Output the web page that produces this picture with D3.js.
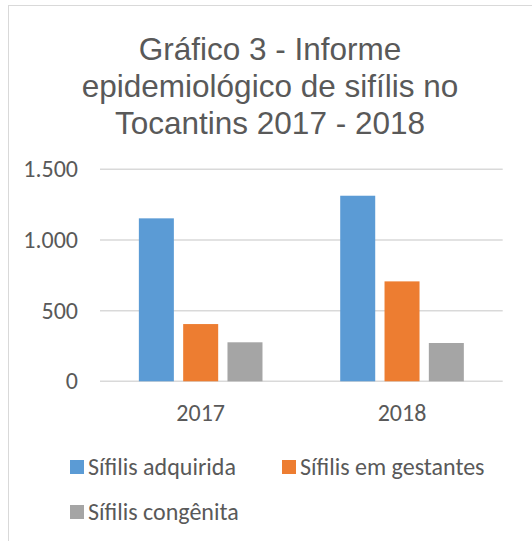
<!DOCTYPE html>
<html>
<head>
<meta charset="utf-8">
<script src="https://cdn.jsdelivr.net/npm/d3@7"></script>
<style>
  html, body { margin: 0; padding: 0; background: #fff; }
  svg { display: block; }
</style>
</head>
<body>
<svg id="chart" width="532" height="541"></svg>
<script>
// Notified cases of syphilis in Tocantins, by year and type
const years = ["2017", "2018"];
const seriesNames = ["Sífilis adquirida", "Sífilis em gestantes", "Sífilis congênita"];
const adquirida = [1153, 1313];
const gestantes = [405, 707];
const congenita = [276, 271];
const yTicks = [0, 500, 1000, 1500];
const titleLines = ["Gráfico 3 - Informe", "epidemiológico de sifílis no", "Tocantins 2017 - 2018"];
const colors = ["#5B9BD5", "#ED7D31", "#A5A5A5"];

const seriesValues = [adquirida, gestantes, congenita];
const rows = years.map((y, i) => ({
  year: y,
  values: seriesNames.map((s, j) => ({ series: s, value: seriesValues[j][i] }))
}));

const svg = d3.select("#chart");
const textColor = "#595959";
const bodyFont = "Carlito, Calibri, 'Open Sans', sans-serif";
const bodySize = 24;

// chart area frame
svg.append("rect")
  .attr("x", 8.5).attr("y", 5.5)
  .attr("width", 600).attr("height", 600)
  .attr("fill", "#fff")
  .attr("stroke", "#D9D9D9").attr("stroke-width", 1);

// title
svg.append("g").selectAll("text")
  .data(titleLines)
  .join("text")
  .attr("x", 270)
  .attr("y", (d, i) => 59.5 + i * 37)
  .attr("text-anchor", "middle")
  .attr("font-family", "'Liberation Sans', Arial, sans-serif")
  .attr("font-size", 31.5)
  .attr("fill", textColor)
  .text(d => d);

const plot = { left: 100, right: 502.7, top: 169.3, bottom: 381.3 };

const y = d3.scaleLinear().domain([0, 1500]).range([plot.bottom, plot.top]);
const x0 = d3.scaleBand().domain(years).range([plot.left, plot.right]).padding(0);
const x1 = d3.scaleBand().domain(seriesNames).range([0, x0.bandwidth()])
  .paddingInner(0.21).paddingOuter(0.877);

// gridlines
svg.append("g")
  .selectAll("line")
  .data(yTicks)
  .join("line")
  .attr("x1", plot.left).attr("x2", plot.right)
  .attr("y1", d => y(d)).attr("y2", d => y(d))
  .attr("stroke", "#D9D9D9").attr("stroke-width", 1.5);

// y axis labels
const yAxis = d3.axisLeft(y).tickValues(yTicks).tickSize(0).tickPadding(0)
  .tickFormat(d => d3.format(",")(d).replace(/,/g, "."));
svg.append("g")
  .attr("transform", `translate(78,0)`)
  .call(yAxis)
  .call(g => g.select(".domain").remove())
  .call(g => g.selectAll("text")
    .attr("font-family", bodyFont)
    .attr("font-size", bodySize)
    .attr("fill", textColor));

// bars
svg.append("g")
  .selectAll("g")
  .data(rows)
  .join("g")
  .attr("transform", d => `translate(${x0(d.year)},0)`)
  .selectAll("rect")
  .data(d => d.values)
  .join("rect")
  .attr("x", d => x1(d.series))
  .attr("width", x1.bandwidth())
  .attr("y", d => y(d.value))
  .attr("height", d => y(0) - y(d.value))
  .attr("fill", (d, i) => colors[i]);

// x axis labels
const xAxis = d3.axisBottom(x0).tickSize(0).tickPadding(0);
svg.append("g")
  .attr("transform", `translate(0,404)`)
  .call(xAxis)
  .call(g => g.select(".domain").remove())
  .call(g => g.selectAll("text")
    .attr("font-family", bodyFont)
    .attr("font-size", bodySize)
    .attr("fill", textColor));

// legend
const legendPos = [[70, 467], [282, 467], [70, 512]];
const legend = svg.append("g")
  .selectAll("g")
  .data(seriesNames)
  .join("g")
  .attr("transform", (d, i) => `translate(${legendPos[i][0]},${legendPos[i][1]})`);
legend.append("rect")
  .attr("x", 0).attr("y", -7)
  .attr("width", 14).attr("height", 14)
  .attr("fill", (d, i) => colors[i]);
legend.append("text")
  .attr("x", 18).attr("y", 0).attr("dy", "0.33em")
  .attr("font-family", bodyFont)
  .attr("font-size", bodySize)
  .attr("fill", textColor)
  .text(d => d);
</script>
</body>
</html>
